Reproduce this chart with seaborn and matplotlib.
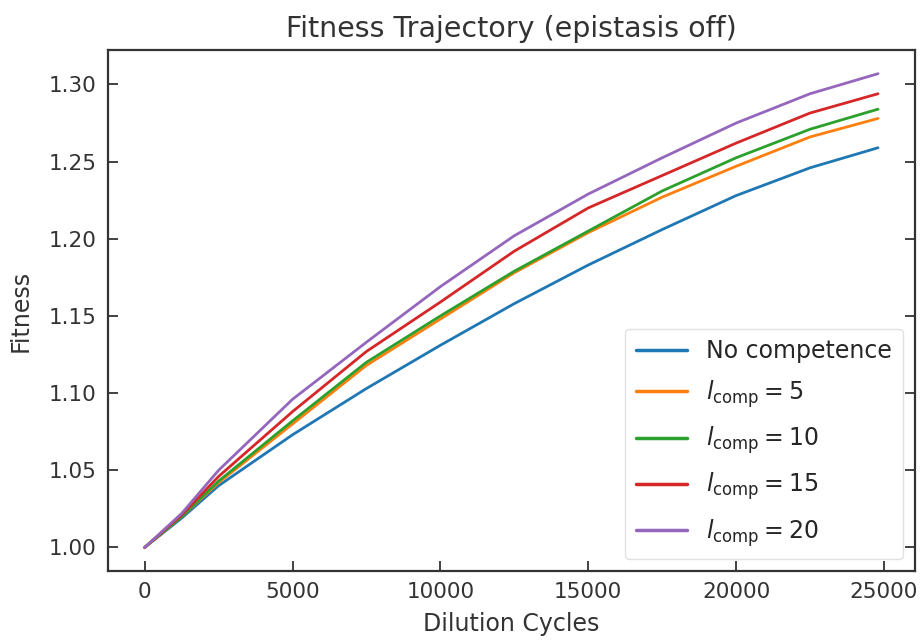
import numpy as np
import pandas as pd
import matplotlib
matplotlib.use("Agg")
import matplotlib.pyplot as plt
import seaborn as sns

# Mean population fitness sampled along the dilution cycles
cycles = [0, 1250, 2500, 5000, 7500, 10000, 12500, 15000, 17500, 20000, 22500, 24800]
fit_none = [1.000, 1.019, 1.040, 1.073, 1.103, 1.131, 1.158, 1.183, 1.206, 1.228, 1.246, 1.259]
fit_l5 = [1.000, 1.020, 1.042, 1.080, 1.118, 1.148, 1.178, 1.204, 1.227, 1.247, 1.266, 1.278]
fit_l10 = [1.000, 1.020, 1.043, 1.082, 1.120, 1.150, 1.179, 1.205, 1.231, 1.2525, 1.271, 1.284]
fit_l15 = [1.000, 1.021, 1.046, 1.088, 1.127, 1.159, 1.192, 1.220, 1.241, 1.262, 1.2815, 1.294]
fit_l20 = [1.000, 1.022, 1.050, 1.096, 1.133, 1.169, 1.202, 1.229, 1.2525, 1.275, 1.294, 1.307]

series_labels = [
    "No competence",
    r"$l_{\rm comp} = 5$",
    r"$l_{\rm comp} = 10$",
    r"$l_{\rm comp} = 15$",
    r"$l_{\rm comp} = 20$",
]
series_values = [fit_none, fit_l5, fit_l10, fit_l15, fit_l20]
x_ticks = [0, 5000, 10000, 15000, 20000, 25000]
y_ticks = [1.00, 1.05, 1.10, 1.15, 1.20, 1.25, 1.30]

df = pd.concat(
    [pd.DataFrame({"cycle": cycles, "fitness": vals, "run": lab})
     for lab, vals in zip(series_labels, series_values)],
    ignore_index=True,
)

sns.set_theme(style="ticks")
plt.rcParams["font.family"] = ["DejaVu Sans"]
plt.rcParams["mathtext.fontset"] = "dejavusans"

fig = plt.figure(figsize=(9.23, 6.41), dpi=100)
ax = fig.add_axes([0.117, 0.109, 0.874, 0.813])

sns.lineplot(
    data=df, x="cycle", y="fitness", hue="run",
    hue_order=series_labels, palette=sns.color_palette("tab10", 5),
    linewidth=2.0, ax=ax,
)

ax.set_xticks(x_ticks)
ax.set_yticks(y_ticks)
ax.set_yticklabels([f"{v:.2f}" for v in y_ticks])
ax.tick_params(axis="both", direction="in", length=7, width=1.3,
               labelsize=15.5, colors=".2", pad=8)
ax.tick_params(axis="y", right=True)
for s in ax.spines.values():
    s.set_linewidth(1.6)
    s.set_color(".2")

ax.set_xlabel("Dilution Cycles", fontsize=17, color=".2", labelpad=7)
ax.set_ylabel("Fitness", fontsize=17, color=".2", labelpad=12)
ax.set_title("Fitness Trajectory (epistasis off)", fontsize=20.5, color=".2", pad=9)

leg = ax.legend(loc="lower right", fontsize=17, handlelength=2.2,
                labelspacing=0.62, borderpad=0.45, frameon=True,
                borderaxespad=0.5, handletextpad=0.8)
leg.get_frame().set_edgecolor("0.85")
for line in leg.get_lines():
    line.set_linewidth(2.5)
for t in leg.get_texts():
    t.set_color(".15")

fig.savefig("out.png", dpi=100)
